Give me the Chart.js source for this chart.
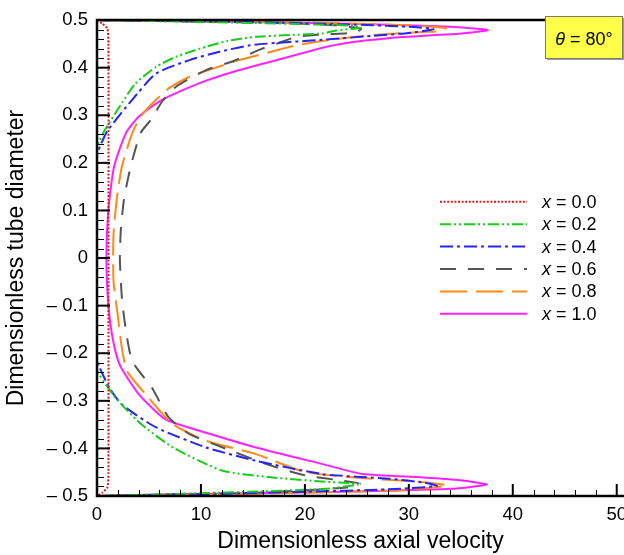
<!DOCTYPE html>
<html><head><meta charset="utf-8">
<script src="https://cdn.jsdelivr.net/npm/chart.js@4.4.1/dist/chart.umd.min.js"></script>
<style>
html,body{margin:0;padding:0;background:#fff;overflow:hidden;width:624px;height:555px}
#wrap{position:absolute;left:0;top:0;width:680px;height:555px}
</style>
</head><body><div id="wrap"><canvas id="c" width="680" height="555"></canvas></div>
<script>
// ---------- data (velocity u, tube position y) ----------
const seriesLabels = ['0.0', '0.2', '0.4', '0.6', '0.8', '1.0'];
const profileX00 = [[0,0.5],[0.5,0.493],[1.0,0.482],[1.1,0.45],[1.1,0],[1.1,-0.45],[1.0,-0.482],[0.5,-0.493],[0,-0.5]];
const profileX02 = [[0,0.5],[8,0.497],[15,0.494],[21,0.491],[24.5,0.488],[25.4,0.484],[23,0.478],[21.7,0.472],[18,0.468],[15.3,0.465],[12.5,0.456],[10.5,0.444],[7.6,0.423],[5.7,0.402],[3.7,0.367],[2.4,0.326],[0.7,0.267],[0.2,0.245],[0,0.235],[0,-0.235],[0.2,-0.245],[1.8,-0.294],[4.1,-0.346],[7.3,-0.398],[12.1,-0.447],[16.9,-0.461],[22,-0.470],[24.5,-0.473],[25.1,-0.476],[22,-0.485],[16,-0.490],[10,-0.494],[4,-0.498],[0,-0.5]];
const profileX04 = [[0,0.5],[8,0.498],[16,0.495],[24,0.491],[30,0.486],[32.4,0.481],[30,0.473],[26.5,0.467],[22,0.459],[18.5,0.454],[14.7,0.447],[11.5,0.432],[8.9,0.416],[5.7,0.388],[3.4,0.333],[1.0,0.267],[0.3,0.235],[0,0.215],[0,-0.215],[0.2,-0.228],[1.2,-0.273],[2.4,-0.308],[5.7,-0.356],[10.5,-0.398],[15.3,-0.426],[21.7,-0.454],[28.2,-0.464],[31.5,-0.472],[32.7,-0.479],[28,-0.486],[20,-0.491],[12,-0.495],[5,-0.498],[0,-0.5]];
const profileX06 = [[0,0.5],[6,0.498],[12,0.496],[18,0.494],[23,0.489],[25.4,0.482],[24.9,0.474],[22,0.470],[19.2,0.465],[17.5,0.452],[15.9,0.440],[13,0.413],[10.5,0.395],[7.6,0.360],[6.3,0.330],[5.2,0.291],[4.2,0.263],[3.25,0.193],[2.6,0.124],[2.3,0.061],[2.2,0],[2.4,-0.085],[2.8,-0.155],[3.4,-0.217],[5.3,-0.273],[6.9,-0.335],[8.9,-0.370],[12.1,-0.398],[16.3,-0.433],[20.1,-0.457],[23.7,-0.468],[25.3,-0.474],[24,-0.482],[20,-0.488],[14,-0.494],[7,-0.497],[0,-0.5]];
const profileX08 = [[0,0.5],[8,0.498],[16,0.496],[24,0.493],[30,0.489],[33.6,0.483],[33,0.477],[31.4,0.475],[28,0.471],[24.9,0.465],[22,0.457],[19.2,0.447],[16.5,0.432],[13.7,0.416],[11,0.397],[8.9,0.381],[7,0.358],[5.7,0.333],[4.3,0.300],[3.4,0.263],[2.4,0.193],[1.9,0.124],[1.6,0.054],[1.55,0],[1.6,-0.051],[2.0,-0.121],[2.4,-0.190],[2.9,-0.238],[4.7,-0.287],[7.3,-0.349],[10.5,-0.384],[15.3,-0.412],[20.1,-0.450],[26.5,-0.464],[31,-0.470],[33.7,-0.478],[30,-0.487],[24,-0.491],[16,-0.495],[8,-0.498],[0,-0.5]];
const profileX10 = [[0,0.5],[5,0.4985],[12,0.497],[20,0.494],[28,0.490],[34,0.486],[37.6,0.479],[36,0.474],[34.6,0.471],[31.4,0.467],[28,0.462],[24,0.452],[21.5,0.441],[18.5,0.423],[13.7,0.395],[9.8,0.367],[6.3,0.333],[4.05,0.298],[2.8,0.263],[1.65,0.193],[1.1,0.103],[0.9,0],[1.1,-0.099],[1.5,-0.168],[2.2,-0.225],[4.05,-0.287],[6.6,-0.339],[10.5,-0.367],[15.3,-0.398],[21.7,-0.433],[25.6,-0.454],[31.4,-0.461],[35,-0.467],[37.5,-0.476],[34,-0.485],[28,-0.489],[18.5,-0.493],[5.7,-0.497],[0,-0.5]];
const xTickValues = [0, 10, 20, 30, 40, 50];
const yTickValues = [0.5, 0.4, 0.3, 0.2, 0.1, 0, -0.1, -0.2, -0.3, -0.4, -0.5];
const yTickLabels = ['0.5','0.4','0.3','0.2','0.1','0','– 0.1','– 0.2','– 0.3','– 0.4','– 0.5'];

// ---------- styles ----------
const FONT = "'Liberation Sans', Arial, Helvetica, sans-serif";
const styles = [
  {color:'#d81e1e', dash:[2,1.6], width:2},
  {color:'#19cc19', dash:[11,3,2,3,2,3], width:2},
  {color:'#2424ff', dash:[13,4,3,4], width:2},
  {color:'#555555', dash:[16,12], width:2},
  {color:'#ff8a1a', dash:[27,9], width:2},
  {color:'#ff22ff', dash:[], width:2}
];
const profiles = [profileX00, profileX02, profileX04, profileX06, profileX08, profileX10];

const datasets = profiles.map((p, i) => ({
  label: 'x = ' + seriesLabels[i],
  data: p.map(([u, y]) => ({x: u, y: y})),
  showLine: true,
  borderColor: styles[i].color,
  backgroundColor: styles[i].color,
  borderDash: styles[i].dash,
  borderWidth: styles[i].width,
  pointRadius: 0,
  tension: 0.2,
  fill: false
}));

function seg(ctx, x1, y1, x2, y2){ ctx.beginPath(); ctx.moveTo(x1,y1); ctx.lineTo(x2,y2); ctx.stroke(); }

const decor = {
  id: 'decor',
  afterDatasetsDraw(chart){
    const {ctx, chartArea: a, scales: {x, y}} = chart;
    ctx.save();
    ctx.setLineDash([]);
    ctx.strokeStyle = '#000';
    // minor ticks
    ctx.lineWidth = 1;
    for (let v = 2; v <= 50; v += 2) {
      if (v % 10 === 0) continue;
      const px = Math.round(x.getPixelForValue(v)) + 0.5;
      seg(ctx, px, a.bottom, px, a.bottom - 6);
    }
    for (let i = -25; i <= 25; i++) {
      if (i % 5 === 0) continue;
      const py = Math.round(y.getPixelForValue(i / 50)) + 0.5;
      seg(ctx, a.left, py, a.left + 7, py);
    }
    // major ticks
    ctx.lineWidth = 2;
    xTickValues.forEach(v => { const px = x.getPixelForValue(v); seg(ctx, px, a.bottom, px, a.bottom - 12); });
    yTickValues.forEach(v => { const py = y.getPixelForValue(v); seg(ctx, a.left, py, a.left + 13, py); });
    // axes + top border
    ctx.lineWidth = 2.5;
    ctx.beginPath();
    ctx.moveTo(a.right, a.top); ctx.lineTo(a.left, a.top); ctx.lineTo(a.left, a.bottom); ctx.lineTo(a.right, a.bottom);
    ctx.stroke();

    // legend
    const ly0 = 201.8, ldy = 22.4;
    chart.data.datasets.forEach((ds, i) => {
      const yy = ly0 + i * ldy;
      ctx.strokeStyle = ds.borderColor; ctx.lineWidth = ds.borderWidth;
      ctx.setLineDash(ds.borderDash || []);
      seg(ctx, 440, yy, 527, yy);
      ctx.setLineDash([]);
      ctx.fillStyle = '#000'; ctx.textBaseline = 'middle'; ctx.textAlign = 'left';
      ctx.font = 'italic 18px ' + FONT;
      ctx.fillText('x', 542, yy + 1);
      const w = ctx.measureText('x').width;
      ctx.font = '18px ' + FONT;
      ctx.fillText(' = ' + seriesLabels[i], 542 + w, yy + 1);
    });

    // theta box
    const bx = 545, by = 16, bw = 77, bh = 42;
    ctx.fillStyle = '#9a9a9a';
    ctx.fillRect(bx + 2, by + 2, bw, bh);
    ctx.fillStyle = '#ffff4a';
    ctx.fillRect(bx, by, bw, bh);
    ctx.strokeStyle = '#7a7a7a'; ctx.lineWidth = 1;
    ctx.strokeRect(bx + 0.5, by + 0.5, bw, bh);
    ctx.fillStyle = '#000'; ctx.textBaseline = 'middle'; ctx.textAlign = 'left';
    ctx.font = 'italic 18px ' + FONT;
    const t1 = '\u03B8';
    const w1 = ctx.measureText(t1).width;
    ctx.font = '18px ' + FONT;
    const t2 = ' = 80°';
    const w2 = ctx.measureText(t2).width;
    const sx = 584 - (w1 + w2) / 2;
    ctx.font = 'italic 18px ' + FONT;
    ctx.fillText(t1, sx, 40);
    ctx.font = '18px ' + FONT;
    ctx.fillText(t2, sx + w1, 40);
    ctx.restore();
  }
};

Chart.defaults.font.family = FONT;
Chart.defaults.color = '#000';

new Chart(document.getElementById('c'), {
  type: 'scatter',
  data: {datasets},
  options: {
    responsive: false,
    animation: false,
    devicePixelRatio: 1,
    layout: {padding: {left: 0, right: 56, top: 16, bottom: 0}},
    plugins: {legend: {display: false}, tooltip: {enabled: false}},
    scales: {
      x: {
        type: 'linear', min: 0, max: 50.7,
        grid: {display: false, drawTicks: false},
        border: {display: false},
        afterBuildTicks: s => { s.ticks = xTickValues.map(v => ({value: v})); },
        afterFit: s => { s.height = 59; },
        ticks: {font: {size: 18.5}, padding: 8, maxRotation: 0, autoSkip: false, callback: v => String(v)},
        title: {display: true, text: 'Dimensionless axial velocity', font: {size: 23}, padding: {top: 0, bottom: 0}}
      },
      y: {
        type: 'linear', min: -0.5, max: 0.5,
        grid: {display: false, drawTicks: false},
        border: {display: false},
        afterBuildTicks: s => { s.ticks = yTickValues.map(v => ({value: v})); },
        afterFit: s => { s.width = 97; },
        ticks: {font: {size: 18.5}, padding: 9, autoSkip: false,
          callback: v => { const i = yTickValues.findIndex(t => Math.abs(t - v) < 1e-9); return i >= 0 ? yTickLabels[i] : ''; }},
        title: {display: true, text: 'Dimensionless tube diameter', font: {size: 23}, padding: {top: 3, bottom: 0}}
      }
    }
  },
  plugins: [decor]
});
</script>
</body></html>
